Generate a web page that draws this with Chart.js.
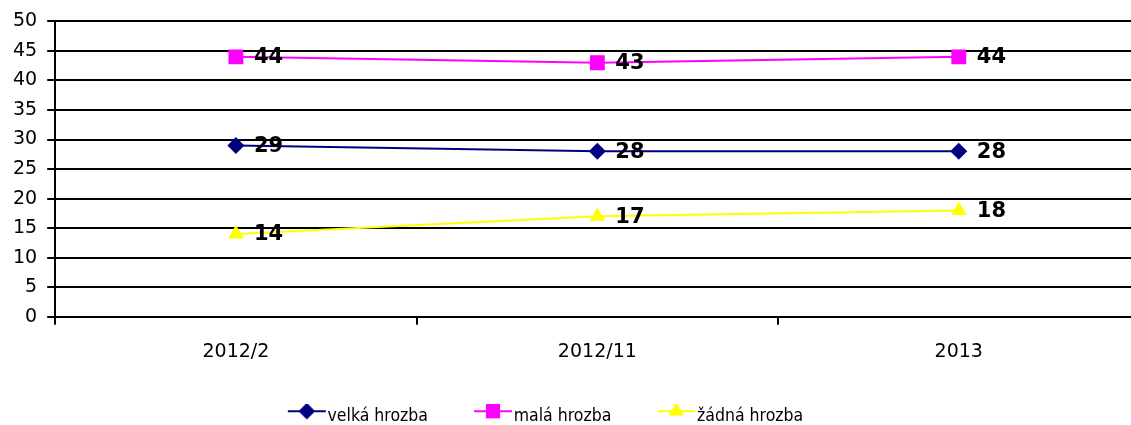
<!DOCTYPE html>
<html>
<head>
<meta charset="utf-8">
<script src="https://cdn.jsdelivr.net/npm/chart.js@4"></script>
<style>
  html, body { margin: 0; padding: 0; background: #fff; overflow: hidden; }
</style>
</head>
<body>
<canvas id="hrozbaChart" width="1150" height="425"></canvas>
<script>
const categories = ["2012/2", "2012/11", "2013"];
const velkaHrozba = [29, 28, 28];
const malaHrozba = [44, 43, 44];
const zadnaHrozba = [14, 17, 18];

const seriesNames = ["velká hrozba", "malá hrozba", "žádná hrozba"];
const seriesColors = ["#000080", "#FF00FF", "#FFFF00"];
const seriesStyles = ["rectRot", "rect", "triangle"];
const seriesRadius = [8.5, 10.5, 9];

const LEGEND_FONT = 17.5;
const LEGEND_BOX = 49;
const LEGEND_LINE = 38;

// legend marker: short line with the point style on it, ending right before the text
function legendIcon(idx) {
  const c = document.createElement("canvas");
  c.width = Math.round(LEGEND_BOX + LEGEND_FONT);
  c.height = 24;
  const ctx = c.getContext("2d");
  const x1 = c.width - 2;
  const x0 = x1 - LEGEND_LINE;
  const cx = (x0 + x1) / 2;
  const cy = 7; // line sits a bit above the text middle
  ctx.strokeStyle = seriesColors[idx];
  ctx.lineWidth = 2;
  ctx.beginPath();
  ctx.moveTo(x0, cy);
  ctx.lineTo(x1, cy);
  ctx.stroke();
  ctx.fillStyle = seriesColors[idx];
  Chart.helpers.drawPoint(ctx, { pointStyle: seriesStyles[idx], radius: seriesRadius[idx] * 0.95, rotation: 0, borderWidth: 0 }, cx, cy);
  ctx.fill();
  return c;
}

const valueLabels = {
  id: "valueLabels",
  afterLayout(chart) {
    // legend in the original sits left of centre
    if (chart.legend) chart.legend.right -= 80;
  },
  afterDatasetsDraw(chart) {
    const ctx = chart.ctx;
    ctx.save();
    ctx.font = "bold 21px 'DejaVu Sans'";
    ctx.fillStyle = "#000";
    ctx.textAlign = "left";
    ctx.textBaseline = "middle";
    chart.data.datasets.forEach((ds, i) => {
      chart.getDatasetMeta(i).data.forEach((pt, j) => {
        ctx.fillText(ds.data[j], pt.x + 18, pt.y + 1);
      });
    });
    ctx.restore();
  },
};

const datasets = [velkaHrozba, malaHrozba, zadnaHrozba].map((vals, idx) => ({
  label: seriesNames[idx],
  data: vals,
  borderColor: seriesColors[idx],
  backgroundColor: seriesColors[idx],
  borderWidth: 2,
  pointStyle: seriesStyles[idx],
  pointRadius: seriesRadius[idx],
  pointHoverRadius: seriesRadius[idx],
  pointBorderWidth: 0,
  tension: 0,
  fill: false,
}));

new Chart(document.getElementById("hrozbaChart"), {
  type: "line",
  data: { labels: categories, datasets },
  options: {
    responsive: false,
    animation: false,
    layout: { padding: { top: 20, left: 3, right: 0, bottom: -10 } },
    scales: {
      x: {
        offset: true,
        grid: { offset: true, drawOnChartArea: false, drawTicks: true, tickLength: 8, color: "#000", lineWidth: 2 },
        border: { color: "#000", width: 2 },
        ticks: { color: "#000", font: { family: "DejaVu Sans", size: 19 }, padding: 16 },
      },
      y: {
        min: 0,
        max: 50,
        ticks: { stepSize: 5, color: "#000", font: { family: "DejaVu Sans", size: 19 }, padding: 10 },
        grid: { color: "#000", lineWidth: 2, tickLength: 8 },
        border: { color: "#000", width: 2 },
      },
    },
    plugins: {
      tooltip: { enabled: false },
      legend: {
        position: "bottom",
        labels: {
          usePointStyle: true,
          pointStyleWidth: LEGEND_BOX,
          padding: 28,
          color: "#000",
          font: { family: "'DejaVu Sans Condensed'", size: LEGEND_FONT },
          generateLabels(chart) {
            const items = Chart.defaults.plugins.legend.labels.generateLabels(chart);
            items.forEach((it, i) => { it.pointStyle = legendIcon(i); });
            return items;
          },
        },
      },
    },
  },
  plugins: [valueLabels],
});
</script>
</body>
</html>
